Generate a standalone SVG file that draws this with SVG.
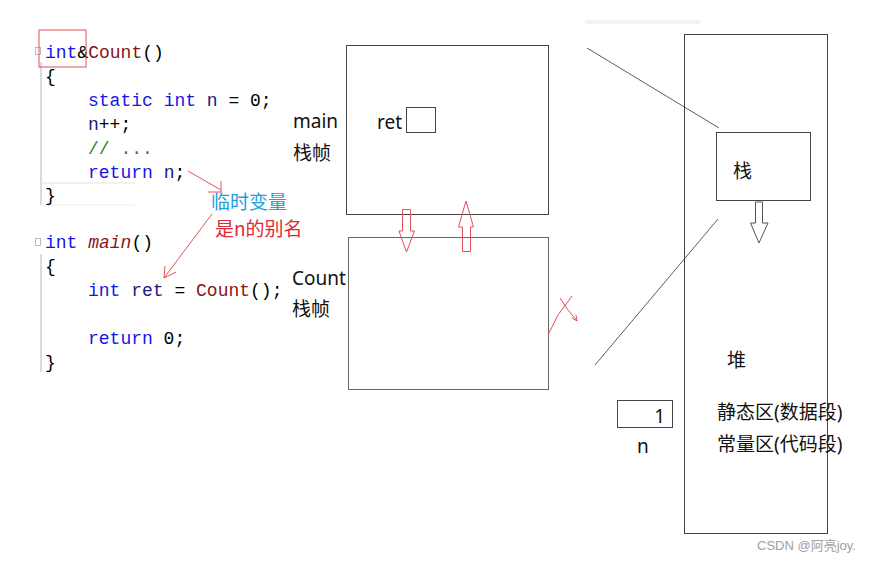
<svg xmlns="http://www.w3.org/2000/svg" width="889" height="562" viewBox="0 0 889 562">
<defs>
<style>
.code{font-family:"Liberation Mono","DejaVu Sans Mono",monospace;font-size:18px;fill:#000}
.kw{fill:#1515e6}
.fn{fill:#8a1515}
.id{fill:#1a1a80}
.cm{fill:#1f8a1f}
.lbl{font-family:"Noto Sans","Noto Sans CJK SC",sans-serif;font-size:19px;fill:#111}
.box{fill:#fff;stroke:#444;stroke-width:1}
.red{fill:none;stroke:#e0505a;stroke-width:1}
.gut{stroke:#b8b8b8;stroke-width:1;fill:none}
.thin{stroke:#333;stroke-width:0.8;fill:none}
</style>
</defs>
<rect width="889" height="562" fill="#fff"/>

<!-- code block -->
<g id="code">
<line class="gut" x1="41" y1="62" x2="41" y2="205"/>
<line x1="41" y1="183" x2="135" y2="183" stroke="#e4e4e4"/>
<line x1="41" y1="205" x2="135" y2="205" stroke="#ececec"/>
<rect x="35.5" y="47.5" width="5" height="7" fill="none" stroke="#aaa" stroke-width="0.8"/>
<line class="gut" x1="41" y1="254" x2="41" y2="372"/>
<rect x="35.5" y="238.5" width="5" height="7" fill="none" stroke="#aaa" stroke-width="0.8"/>
<text class="code" xml:space="preserve"><tspan x="45" y="58"><tspan class="kw">int</tspan>&amp;<tspan class="fn">Count</tspan>()</tspan><tspan x="45" y="82">{</tspan><tspan x="88" y="106"><tspan class="kw">static</tspan> <tspan class="kw">int</tspan> <tspan class="id">n</tspan> = 0;</tspan><tspan x="88" y="130"><tspan class="id">n</tspan>++;</tspan><tspan x="88" y="154" class="cm">// ...</tspan><tspan x="88" y="178"><tspan class="kw">return</tspan> <tspan class="id">n</tspan>;</tspan><tspan x="45" y="201">}</tspan></text>
<text class="code" xml:space="preserve"><tspan x="45" y="248"><tspan class="kw">int</tspan> <tspan class="fn" font-style="italic">main</tspan>()</tspan><tspan x="45" y="272">{</tspan><tspan x="88" y="296"><tspan class="kw">int</tspan> <tspan class="id">ret</tspan> = <tspan class="fn">Count</tspan>();</tspan><tspan x="88" y="344"><tspan class="kw">return</tspan> 0;</tspan><tspan x="45" y="368">}</tspan></text>
<rect x="39" y="30" width="47" height="37" class="red"/>
</g>

<!-- annotations -->
<g id="annotation">
<text x="211" y="209" font-family="Noto Sans CJK SC,sans-serif" font-size="19" fill="#1ea0dc">临时变量</text>
<text x="215" y="236" font-family="Noto Sans CJK SC,sans-serif" font-size="19" fill="#e02a36">是n的别名</text>
</g>

<!-- main frame -->
<g id="main-frame">
<rect x="346.5" y="45.5" width="202" height="169" class="box"/>
<text class="lbl" x="293" y="128">main</text>
<text class="lbl" x="293" y="160">栈帧</text>
<text class="lbl" x="377" y="129">ret</text>
<rect x="406.5" y="107.5" width="29" height="25" class="box"/>
</g>

<!-- Count frame -->
<g id="count-frame">
<rect x="348.5" y="237.5" width="200" height="152" fill="#fff" stroke="#666"/>
<text class="lbl" x="292" y="285">Count</text>
<text class="lbl" x="292" y="316">栈帧</text>
</g>

<!-- memory -->
<g id="memory">
<rect x="684.5" y="34.5" width="143" height="499" class="box" stroke="#555"/>
<text class="lbl" x="727" y="367">堆</text>
<text class="lbl" x="717" y="419">静态区(数据段)</text>
<text class="lbl" x="717" y="451">常量区(代码段)</text>
</g>

<g id="stack">
<rect x="716.5" y="132.5" width="94" height="68" class="box"/>
<text class="lbl" x="733" y="178">栈</text>
</g>

<g id="static-n">
<rect x="617.5" y="400.5" width="55" height="27" class="box"/>
<text class="lbl" x="665" y="423" text-anchor="end" font-size="21">1</text>
<text class="lbl" x="637" y="453">n</text>
</g>

<!-- connectors -->
<g id="connectors">
<line class="red" x1="188" y1="171" x2="221" y2="190"/>
<polyline class="red" points="221,181 221,192 208,192"/>
<line class="red" x1="212" y1="214" x2="164" y2="278"/>
<polyline class="red" points="165,266 164,278 176,272"/>
<polygon class="red" points="402.5,209.5 410.5,209.5 410.5,231 414.5,231 406.5,252 399,231 402.5,231"/>
<polygon class="red" points="462.5,251.5 470.5,251.5 470.5,227 473.5,227 466,201 458.5,227 462.5,227"/>
<polyline class="red" points="548,335 558,315 572,296"/>
<polyline class="red" points="560,298 568,310 577,321"/>
<polyline class="red" points="572,318 577,321 576,315"/>
<polygon points="755.5,202 762.5,202 762.5,223 768,223 759,243 750.5,223 755.5,223" fill="#fff" stroke="#555" stroke-width="1"/>
<line class="thin" x1="587" y1="48" x2="719" y2="128"/>
<line class="thin" x1="718" y1="219" x2="595" y2="365"/>
<rect x="585" y="20" width="115" height="4" fill="#f3f3f3"/>
</g>

<text x="757" y="550" font-family="Liberation Sans,Noto Sans CJK SC,sans-serif" font-size="13" fill="#a0a0a0">CSDN @阿亮joy.</text>
</svg>
